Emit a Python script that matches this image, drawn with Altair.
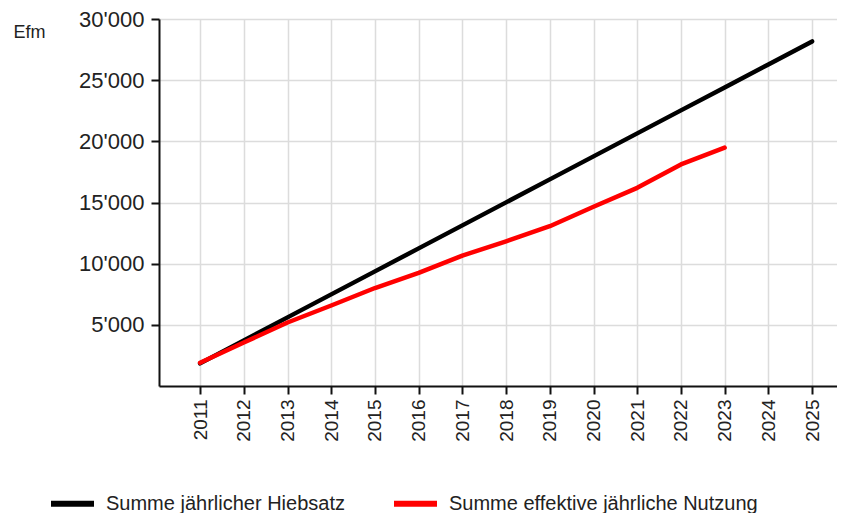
import altair as alt
import pandas as pd

years = [2011, 2012, 2013, 2014, 2015, 2016, 2017, 2018, 2019, 2020, 2021, 2022, 2023, 2024, 2025]
hiebsatz = [1850, 3730, 5610, 7490, 9370, 11250, 13130, 15010, 16890, 18770, 20650, 22530, 24410, 26290, 28170]
nutzung_years = [2011, 2012, 2013, 2014, 2015, 2016, 2017, 2018, 2019, 2020, 2021, 2022, 2023]
nutzung = [1900, 3550, 5190, 6580, 8010, 9240, 10660, 11830, 13060, 14650, 16200, 18110, 19480]

s1 = "Summe jährlicher Hiebsatz"
s2 = "Summe effektive jährliche Nutzung"
y_ticks = [5000, 10000, 15000, 20000, 25000, 30000]

df = pd.concat([
    pd.DataFrame({"Jahr": years, "Wert": hiebsatz, "Serie": s1}),
    pd.DataFrame({"Jahr": nutzung_years, "Wert": nutzung, "Serie": s2}),
])

font = "Liberation Sans"

chart = alt.Chart(df).mark_line(strokeWidth=4.5, strokeCap="round", strokeJoin="round").encode(
    x=alt.X("Jahr:Q",
            scale=alt.Scale(domain=[2010.06, 2025.57], nice=False, zero=False),
            axis=alt.Axis(values=years, format="d", labelAngle=270, title=None,
                          grid=True, gridColor="#dcdcdc", gridWidth=1.5,
                          domainColor="#111", domainWidth=2,
                          tickColor="#111", tickWidth=2, tickSize=8,
                          labelFontSize=19, labelFont=font, labelColor="#222",
                          labelPadding=5)),
    y=alt.Y("Wert:Q",
            scale=alt.Scale(domain=[0, 30000], nice=False),
            axis=alt.Axis(values=y_ticks,
                          labelExpr="replace(format(datum.value, ','), ',', \"'\")",
                          title="Efm", titleAngle=0, titleAlign="left", titleBaseline="middle",
                          titleX=-146, titleY=13, titleFontSize=18, titleFontWeight="normal",
                          titleFont=font, titleColor="#222",
                          grid=True, gridColor="#dcdcdc", gridWidth=1.5,
                          domainColor="#111", domainWidth=2,
                          tickColor="#111", tickWidth=2, tickSize=8,
                          labelFontSize=22, labelFont=font, labelColor="#222",
                          labelPadding=7)),
    color=alt.Color("Serie:N",
                    scale=alt.Scale(domain=[s1, s2], range=["#000000", "#ff0000"]),
                    legend=alt.Legend(title=None, orient="none", direction="horizontal",
                                      legendX=-111, legendY=460,
                                      symbolType="stroke", symbolSize=1849,
                                      symbolStrokeWidth=6, labelFontSize=20,
                                      labelFont=font, labelColor="#222", labelLimit=500,
                                      labelOffset=9, columnPadding=37, padding=0)),
).properties(
    width=678, height=367,
    padding={"left": 151, "top": 11, "right": 0, "bottom": 127},
    autosize=alt.AutoSizeParams(type="none"),
).configure_view(stroke=None)

chart.save("out.html", embed_options={"renderer": "svg", "actions": False})
